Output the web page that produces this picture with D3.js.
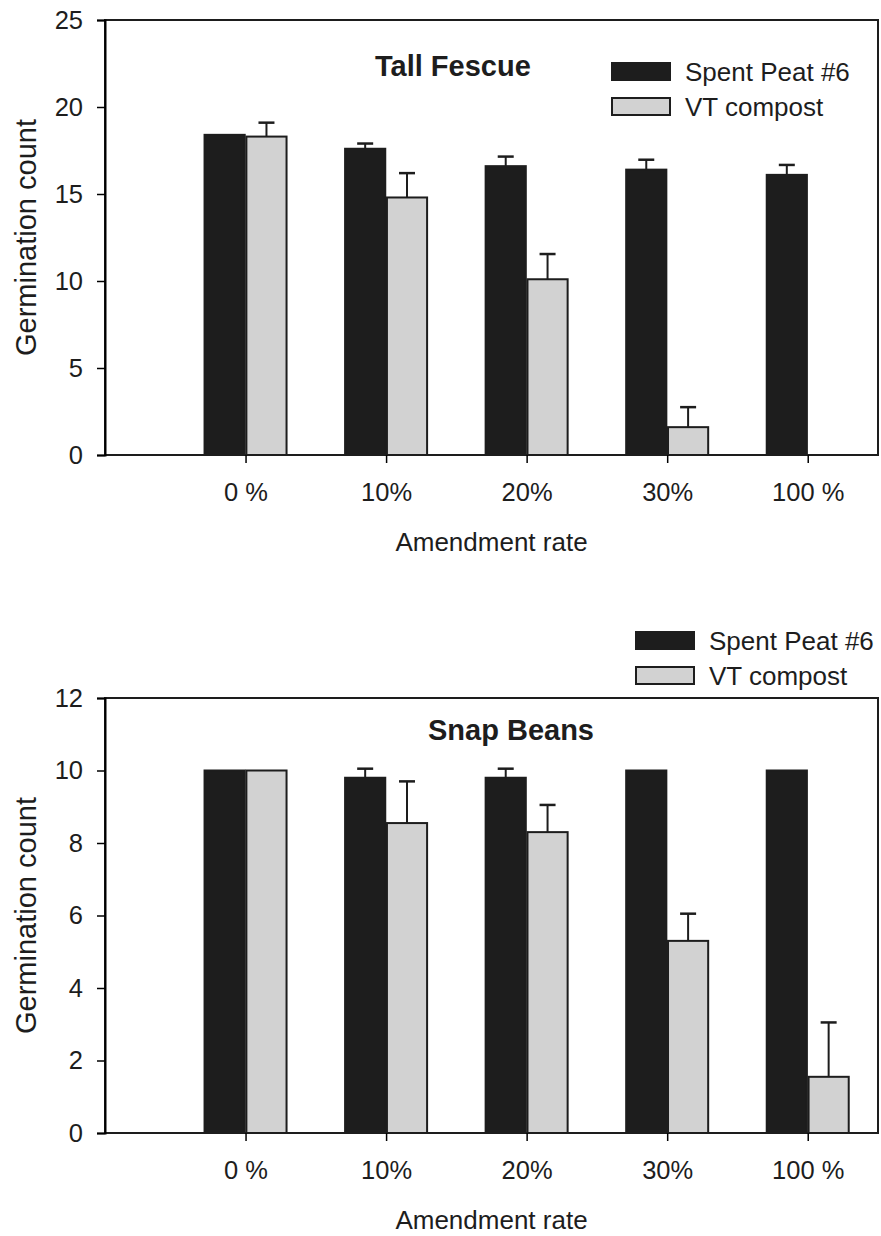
<!DOCTYPE html>
<html>
<head>
<meta charset="utf-8">
<script src="https://cdn.jsdelivr.net/npm/d3@7"></script>
<style>
  body { margin: 0; background: #fff; }
  svg { display: block; font-family: "Liberation Sans", Arial, sans-serif; }
</style>
</head>
<body>
<svg id="chart" width="881" height="1236"></svg>
<script>
// amendment rates on the x axis
const rates = ["0 %", "10%", "20%", "30%", "100 %"];
const series = ["Spent Peat #6", "VT compost"];

// Tall Fescue germination counts (mean, + error)
const fescuePeat = [18.4, 17.6, 16.6, 16.4, 16.1];
const fescuePeatErr = [0, 0.3, 0.55, 0.57, 0.57];
const fescueCompost = [18.3, 14.8, 10.1, 1.6, 0];
const fescueCompostErr = [0.8, 1.4, 1.45, 1.15, 0];

// Snap Beans germination counts
const beanPeat = [10, 9.8, 9.8, 10, 10];
const beanPeatErr = [0, 0.25, 0.25, 0, 0];
const beanCompost = [10, 8.55, 8.3, 5.3, 1.55];
const beanCompostErr = [0, 1.15, 0.75, 0.75, 1.5];

const fescueTicks = [0, 5, 10, 15, 20, 25];
const beanTicks = [0, 2, 4, 6, 8, 10, 12];

const fills = ["#1d1d1d", "#d2d2d2"];
const fontSize = 25.5;

const svg = d3.select("#chart");

function panel(opt) {
    const left = 105, right = 878;
    const g = svg.append("g");

    const x = d3.scaleLinear().domain([0, 5.5]).range([left, right]);
    const y = d3.scaleLinear().domain([0, opt.yMax]).range([opt.bottom, opt.top]);
    const inner = d3.scaleBand().domain(series).range([-41, 41]).paddingInner(0.04);

    const rows = rates.map((r, i) => ({
        rate: r,
        pos: i + 1,
        vals: [
            {s: series[0], v: opt.peat[i], e: opt.peatErr[i]},
            {s: series[1], v: opt.compost[i], e: opt.compostErr[i]},
        ]
    }));

    // bars
    const grp = g.selectAll(".grp").data(rows).join("g")
        .attr("transform", d => `translate(${x(d.pos)},0)`);

    grp.selectAll("rect").data(d => d.vals.filter(v => v.v > 0)).join("rect")
        .attr("x", d => inner(d.s))
        .attr("width", inner.bandwidth())
        .attr("y", d => y(d.v))
        .attr("height", d => y(0) - y(d.v))
        .attr("fill", d => fills[series.indexOf(d.s)])
        .attr("stroke", "#1d1d1d")
        .attr("stroke-width", 2);

    // error bars (upper only)
    const eb = grp.selectAll(".err").data(d => d.vals.filter(v => v.e > 0)).join("g")
        .attr("class", "err");
    eb.append("line")
        .attr("x1", d => inner(d.s) + inner.bandwidth() / 2)
        .attr("x2", d => inner(d.s) + inner.bandwidth() / 2)
        .attr("y1", d => y(d.v))
        .attr("y2", d => y(d.v + d.e))
        .attr("stroke", "#1d1d1d").attr("stroke-width", 2);
    eb.append("line")
        .attr("x1", d => inner(d.s) + inner.bandwidth() / 2 - 8)
        .attr("x2", d => inner(d.s) + inner.bandwidth() / 2 + 8)
        .attr("y1", d => y(d.v + d.e))
        .attr("y2", d => y(d.v + d.e))
        .attr("stroke", "#1d1d1d").attr("stroke-width", 2.5);

    // frame
    g.append("rect")
        .attr("x", left).attr("y", opt.top)
        .attr("width", right - left).attr("height", opt.bottom - opt.top)
        .attr("fill", "none").attr("stroke", "#1d1d1d").attr("stroke-width", 2);

    // y axis
    const ya = g.append("g").attr("transform", `translate(${left},0)`)
        .call(d3.axisLeft(y).tickValues(opt.ticks).tickSize(8).tickPadding(14));
    ya.select(".domain").attr("stroke-width", 2);
    ya.selectAll(".tick line").attr("stroke-width", 1.5);
    ya.selectAll("text").attr("font-size", fontSize).attr("font-family", null).attr("fill", "#1d1d1d");

    // x axis
    const xa = g.append("g").attr("transform", `translate(0,${opt.bottom})`)
        .call(d3.axisBottom(x).tickValues(rows.map(d => d.pos))
            .tickFormat((d, i) => rates[i]).tickSize(8).tickPadding(20));
    xa.select(".domain").remove();
    xa.selectAll(".tick line").attr("stroke-width", 1.5);
    xa.selectAll("text").attr("font-size", fontSize).attr("font-family", null).attr("fill", "#1d1d1d");

    // axis titles
    g.append("text")
        .attr("x", (left + right) / 2).attr("y", opt.bottom + 96)
        .attr("text-anchor", "middle").attr("font-size", fontSize + 0.5).attr("fill", "#1d1d1d")
        .text("Amendment rate");
    g.append("text")
        .attr("transform", `translate(36,${(opt.top + opt.bottom) / 2}) rotate(-90)`)
        .attr("text-anchor", "middle").attr("font-size", 29).attr("fill", "#1d1d1d")
        .text("Germination count");

    // panel title
    g.append("text")
        .attr("x", opt.titleX).attr("y", opt.titleY)
        .attr("font-size", 29).attr("font-weight", "bold").attr("fill", "#1d1d1d")
        .text(opt.title);

    // legend
    const lg = g.append("g").attr("transform", `translate(${opt.legX},${opt.legY})`);
    const li = lg.selectAll("g").data(series).join("g")
        .attr("transform", (d, i) => `translate(0,${i * 35})`);
    li.append("rect")
        .attr("x", 0).attr("y", -18).attr("width", 58).attr("height", 17)
        .attr("fill", (d, i) => fills[i]).attr("stroke", "#1d1d1d").attr("stroke-width", 2);
    li.append("text")
        .attr("x", 73).attr("y", 0)
        .attr("font-size", 26).attr("fill", "#1d1d1d")
        .text(d => d);
}

panel({
    title: "Tall Fescue", titleX: 375, titleY: 76,
    legX: 612, legY: 81,
    top: 20, bottom: 455, yMax: 25, ticks: fescueTicks,
    peat: fescuePeat, peatErr: fescuePeatErr,
    compost: fescueCompost, compostErr: fescueCompostErr
});

panel({
    title: "Snap Beans", titleX: 428, titleY: 740,
    legX: 636, legY: 650,
    top: 698, bottom: 1133, yMax: 12, ticks: beanTicks,
    peat: beanPeat, peatErr: beanPeatErr,
    compost: beanCompost, compostErr: beanCompostErr
});
</script>
</body>
</html>
